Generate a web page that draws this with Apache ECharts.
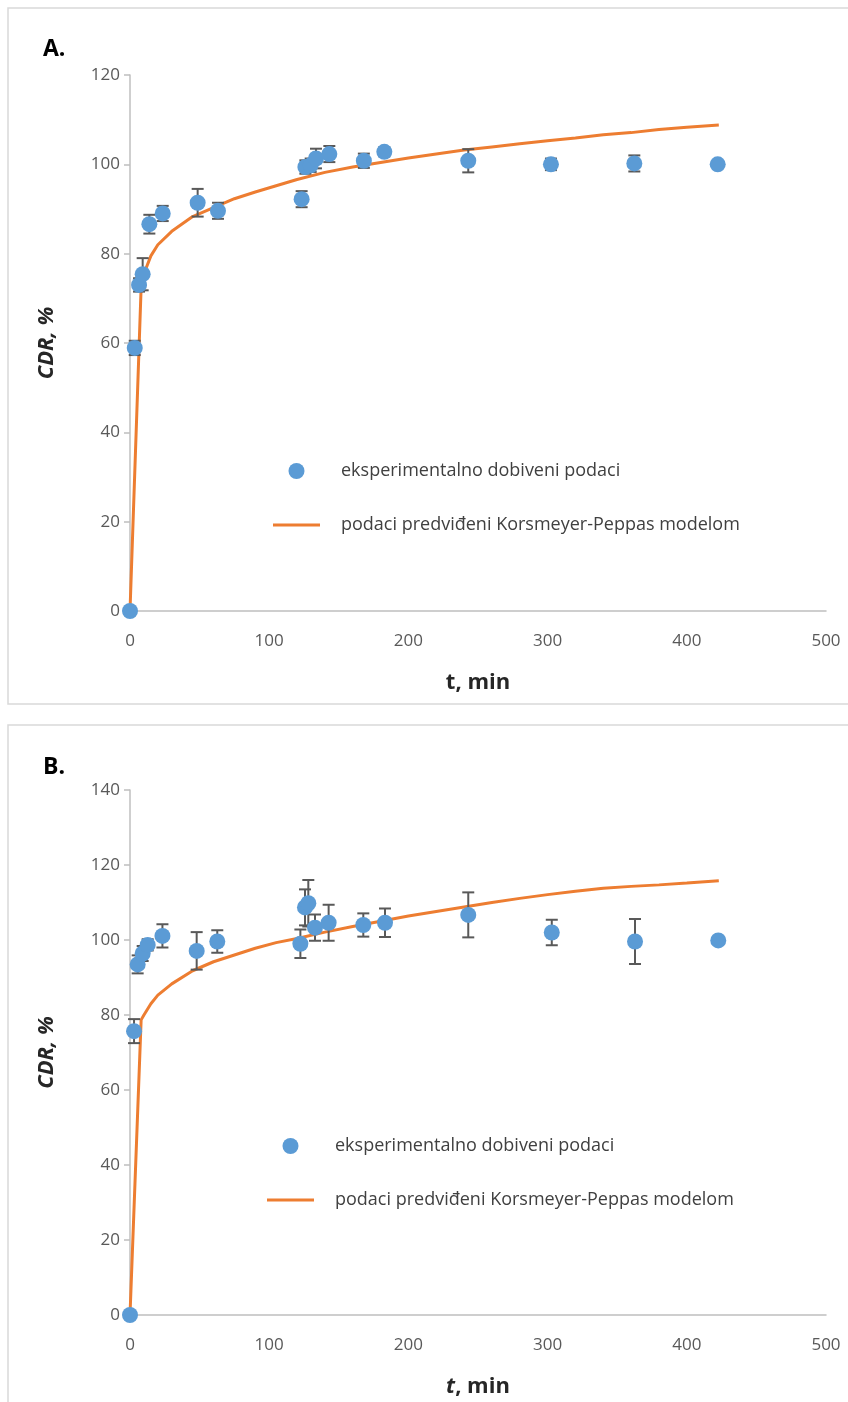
<!DOCTYPE html>
<html>
<head>
<meta charset="utf-8">
<script src="https://cdn.jsdelivr.net/npm/echarts@6/dist/echarts.min.js"></script>
<style>
html,body{margin:0;padding:0;background:#fff;}
#c{width:848px;height:1402px;}
</style>
</head>
<body>
<div id="c"></div>
<script>
// ---------- DATA ----------
const legendExp = 'eksperimentalno dobiveni podaci';
const legendModel = 'podaci predviđeni Korsmeyer-Peppas modelom';

// Panel A – experimental
const timeA = [0, 3.4, 6.5, 9.1, 13.9, 23.5, 48.6, 63.2, 123.3, 126, 129.8, 133.6, 143.2, 168, 182.7, 243, 302.4, 362.3, 422.2];
const cdrA  = [0, 58.9, 73.0, 75.4, 86.6, 89.0, 91.4, 89.6, 92.2, 99.4, 99.8, 101.3, 102.3, 100.8, 102.8, 100.8, 100.0, 100.2, 100.0];
const errA  = [0, 1.6, 1.5, 3.6, 2.1, 1.7, 3.1, 1.8, 1.8, 1.5, 1.5, 2.2, 1.8, 1.6, 1.0, 2.6, 1.3, 1.8, 0];
// Panel A – model
const modelTimeA = [0, 8, 10, 15, 20, 30, 45, 60, 75, 90, 105, 120, 140, 160, 180, 200, 220, 240, 260, 280, 300, 320, 340, 360, 380, 400, 423];
const modelCdrA  = [0, 72.5, 75.5, 79.5, 82, 85, 88.3, 90.3, 92.3, 93.8, 95.2, 96.6, 98.2, 99.4, 100.4, 101.4, 102.3, 103.2, 103.9, 104.6, 105.3, 105.9, 106.6, 107.1, 107.8, 108.3, 108.8];

// Panel B – experimental
const timeB = [0, 2.9, 5.5, 9.1, 12.7, 23.3, 47.9, 62.7, 122.4, 125.7, 128.1, 132.9, 142.7, 167.6, 183.2, 243, 303, 362.8, 422.6];
const cdrB  = [0, 75.7, 93.5, 96.4, 98.7, 101.1, 97.1, 99.6, 99.0, 108.7, 109.8, 103.3, 104.6, 104.0, 104.6, 106.7, 102.0, 99.6, 99.9];
const errB  = [0, 3.2, 2.4, 2.0, 1.5, 3.1, 5.0, 3.0, 3.8, 4.8, 6.2, 3.5, 4.8, 3.1, 3.8, 6.0, 3.4, 6.0, 0];
// Panel B – model
const modelTimeB = [0, 8, 10, 15, 20, 30, 45, 60, 75, 90, 105, 120, 140, 160, 180, 200, 220, 240, 260, 280, 300, 320, 340, 360, 380, 400, 423];
const modelCdrB  = [0, 78.7, 80, 83, 85.3, 88.3, 91.8, 94.2, 96, 97.8, 99.3, 100.4, 102.1, 103.6, 105, 106.4, 107.6, 108.8, 110.0, 111.1, 112.1, 113.0, 113.8, 114.3, 114.7, 115.2, 115.8];

// ---------- BUILD ----------
const zip = (a, b) => a.map((v, i) => [v, b[i]]);
const errData = (t, v, e) => t.map((x, i) => [x, v[i] - e[i], v[i] + e[i], e[i]]);

const FONT = "'Open Sans', 'Noto Sans', sans-serif";
const BLUE = '#5b9bd5', ORANGE = '#ed7d31', ERR = '#595959', AXIS = '#bfbfbf';

function errRender(params, api) {
  if (api.value(3) <= 0) return null;
  const x = api.value(0);
  const top = api.coord([x, api.value(2)]);
  const bot = api.coord([x, api.value(1)]);
  const w = 6;
  const st = {stroke: ERR, lineWidth: 2};
  return {type: 'group', children: [
    {type: 'line', shape: {x1: top[0], y1: top[1], x2: bot[0], y2: bot[1]}, style: st},
    {type: 'line', shape: {x1: top[0] - w, y1: top[1], x2: top[0] + w, y2: top[1]}, style: st},
    {type: 'line', shape: {x1: bot[0] - w, y1: bot[1], x2: bot[0] + w, y2: bot[1]}, style: st}
  ]};
}

function xAxis(gridIndex, nameRich) {
  return {
    type: 'value', gridIndex, min: 0, max: 500, interval: 100,
    axisLine: {lineStyle: {color: AXIS, width: 1.5}},
    axisTick: {show: false},
    splitLine: {show: false},
    axisLabel: {color: '#595959', fontSize: 17, fontFamily: FONT, margin: 22},
    name: nameRich, nameLocation: 'middle', nameGap: 61,
    nameTextStyle: {
      color: '#262626', fontSize: 22, fontWeight: 'bold', fontFamily: FONT,
      rich: {
        i: {fontStyle: 'italic', fontWeight: 'bold', fontSize: 22, fontFamily: FONT, color: '#262626'},
        b: {fontWeight: 'bold', fontSize: 22, fontFamily: FONT, color: '#262626'}
      }
    }
  };
}
function yAxis(gridIndex, max) {
  return {
    type: 'value', gridIndex, min: 0, max, interval: 20,
    axisLine: {show: true, lineStyle: {color: AXIS, width: 1.5}},
    axisTick: {show: true, length: 6, lineStyle: {color: AXIS, width: 1.5}},
    splitLine: {show: false},
    axisLabel: {color: '#595959', fontSize: 17, fontFamily: FONT, margin: 10},
    name: 'CDR, %', nameLocation: 'middle', nameGap: 72,
    nameTextStyle: {color: '#262626', fontSize: 22, fontWeight: 'bold', fontStyle: 'italic', fontFamily: FONT}
  };
}

function legend(top, left) {
  return {
    orient: 'vertical', left, top, itemWidth: 47, itemHeight: 16, itemGap: 36,
    selectedMode: false,
    textStyle: {color: '#404040', fontSize: 18, fontFamily: FONT, padding: [0, 0, 0, 16]},
    data: [
      {name: legendExp, icon: 'circle'},
      {name: legendModel, icon: 'path://M0 0H47V3H0Z'}
    ]
  };
}

const chart = echarts.init(document.getElementById('c'));
chart.setOption({
  animation: false,
  backgroundColor: '#fff',
  title: [
    {text: 'A.', left: 38, top: 33, textStyle: {fontSize: 23, fontWeight: 'bold', color: '#000', fontFamily: FONT}},
    {text: 'B.', left: 38, top: 751, textStyle: {fontSize: 23, fontWeight: 'bold', color: '#000', fontFamily: FONT}}
  ],
  graphic: [
    {type: 'rect', shape: {x: 8, y: 8, width: 860, height: 696}, style: {fill: 'none', stroke: '#d9d9d9', lineWidth: 1.5}, silent: true},
    {type: 'rect', shape: {x: 8, y: 725, width: 860, height: 690}, style: {fill: 'none', stroke: '#d9d9d9', lineWidth: 1.5}, silent: true}
  ],
  legend: [legend(457, 268), legend(1132, 262)],
  grid: [
    {left: 130, right: 22, top: 75, height: 536},
    {left: 130, right: 22, top: 790, height: 525}
  ],
  xAxis: [xAxis(0, '{b|t, min}'), xAxis(1, '{i|t}{b|, min}')],
  yAxis: [yAxis(0, 120), yAxis(1, 140)],
  series: [
    {name: legendModel, type: 'line', xAxisIndex: 0, yAxisIndex: 0, data: zip(modelTimeA, modelCdrA),
     symbol: 'none', smooth: false, lineStyle: {color: ORANGE, width: 3}, itemStyle: {color: ORANGE}, z: 2},
    {type: 'custom', xAxisIndex: 0, yAxisIndex: 0, renderItem: errRender, data: errData(timeA, cdrA, errA), z: 3, clip: false},
    {name: legendExp, type: 'scatter', xAxisIndex: 0, yAxisIndex: 0, data: zip(timeA, cdrA),
     symbol: 'circle', symbolSize: 16, itemStyle: {color: BLUE, opacity: 1}, z: 4, clip: false},

    {name: legendModel, type: 'line', xAxisIndex: 1, yAxisIndex: 1, data: zip(modelTimeB, modelCdrB),
     symbol: 'none', smooth: false, lineStyle: {color: ORANGE, width: 3}, itemStyle: {color: ORANGE}, z: 2},
    {type: 'custom', xAxisIndex: 1, yAxisIndex: 1, renderItem: errRender, data: errData(timeB, cdrB, errB), z: 3, clip: false},
    {name: legendExp, type: 'scatter', xAxisIndex: 1, yAxisIndex: 1, data: zip(timeB, cdrB),
     symbol: 'circle', symbolSize: 16, itemStyle: {color: BLUE, opacity: 1}, z: 4, clip: false}
  ]
});
</script>
</body>
</html>
